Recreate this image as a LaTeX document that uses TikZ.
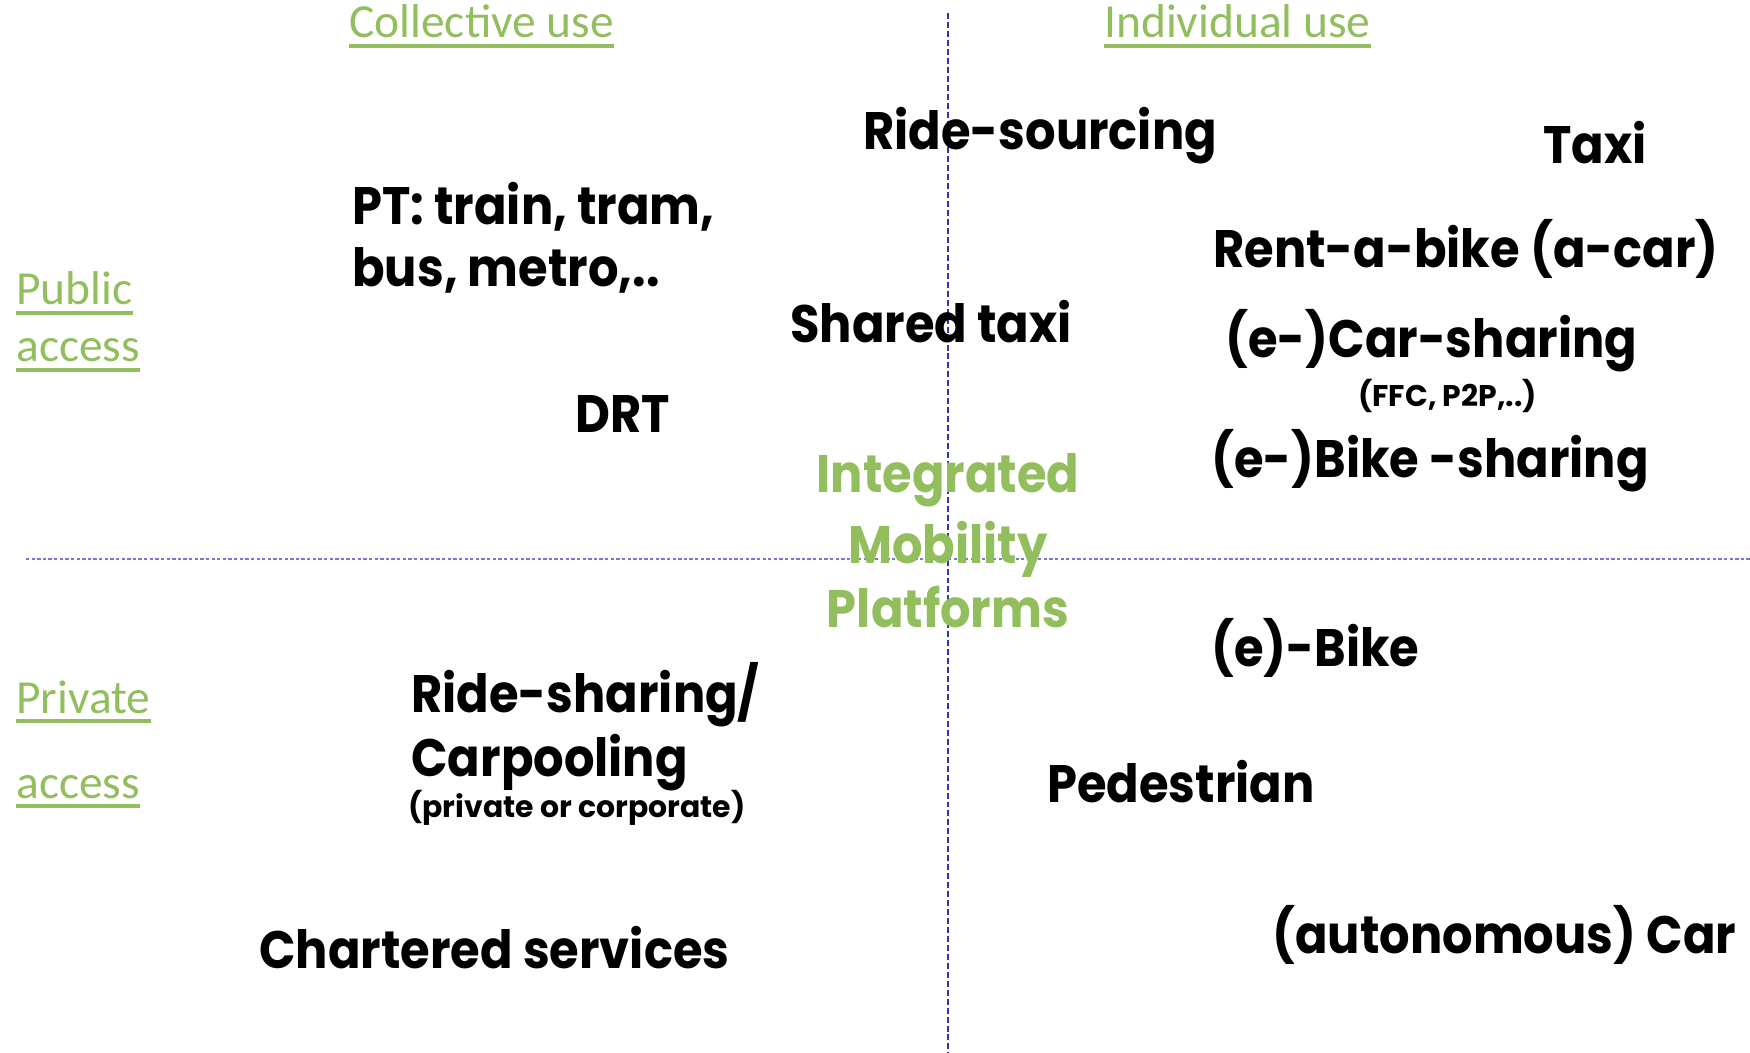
\documentclass[tikz,border=0pt]{standalone}
\usepackage{fontspec}
\setmainfont{Poppins}
\newfontfamily\gothic{Poppins}[FakeStretch=0.91]
\newfontfamily\calib{Carlito}
\definecolor{olivegreen}{RGB}{146,190,94}
\definecolor{axisblue}{RGB}{52,52,176}
\definecolor{axislight}{RGB}{122,122,204}
\begin{document}
\begin{tikzpicture}[x=0.02cm,y=-0.02cm]
\tikzstyle{every node}+=[inner sep=0pt, anchor=base west]
\tikzset{
  mode/.style={font=\gothic\fontsize{30}{36}\selectfont\bfseries},
  note/.style={font=\fontsize{17}{20}\selectfont\bfseries},
  axislabel/.style={font=\calib\fontsize{27}{32}\selectfont, text=olivegreen},
  platform/.style={font=\gothic\fontsize{30}{36}\selectfont\bfseries, text=olivegreen, anchor=base},
  uline/.style={olivegreen, line width=1.9pt}
}
\useasboundingbox (0,0) rectangle (1750,1053);
% quadrant axes
\draw [axisblue, line width=0.6pt, dash pattern=on 3.4pt off 1.7pt] (948,13) -- (948,1053);
\draw [axislight, line width=0.9pt, dash pattern=on 1.9pt off 1.3pt] (26,559) -- (1750,559);
% axis headings
\node [axislabel] (collective) at (349,38) {Collective use};
\node [axislabel] (individual) at (1104,38) {Individual use};
\node [axislabel] (public1) at (16,305) {Public};
\node [axislabel] (public2) at (16,362) {access};
\node [axislabel] (private1) at (16,713) {Private};
\node [axislabel] (private2) at (16,798) {access};
\foreach \n in {collective,individual,public1,public2,private1,private2}
  \draw [uline] ([yshift=-4.6pt]\n.base west) -- ([yshift=-4.6pt]\n.base east);
% collective, public
\node [mode] (pt1) at (352,225) {PT: train, tram,};
\node [mode] (pt2) at (352,287) {bus, metro,..};
\node [mode] (drt) at (575,433) {DRT};
\node [mode] (sharedtaxi) at (790,343) {Shared taxi};
\node [mode] (ridesourcing) at (863,150) {Ride-sourcing};
% individual, public
\node [mode] (taxi) at (1543,164) {Taxi};
\node [mode] (rentabike) at (1213,268) {Rent-a-bike (a-car)};
\node [mode] (carsharing) at (1225,358) {(e-)Car-sharing};
\node [note] (ffc) at (1358,407) {(FFC, P2P,..)};
\node [mode] (bikesharing) at (1211,478) {(e-)Bike -sharing};
% collective, private
\node [mode] (ridesharing1) at (411,712) {Ride-sharing/};
\node [mode] (ridesharing2) at (411,776) {Carpooling};
\node [note] (corporate) at (408,817) {(private or corporate)};
\node [mode] (chartered) at (259,968) {Chartered services};
% individual, private
\node [mode] (ebike) at (1211,666) {(e)-Bike};
\node [mode] (pedestrian) at (1047,802) {Pedestrian};
\node [mode] (car) at (1272,953) {(autonomous) Car};
% centre
\node [platform] (imp1) at (948,493) {Integrated};
\node [platform] (imp2) at (948,563) {Mobility};
\node [platform] (imp3) at (948,627) {Platforms};
\end{tikzpicture}
\end{document}
